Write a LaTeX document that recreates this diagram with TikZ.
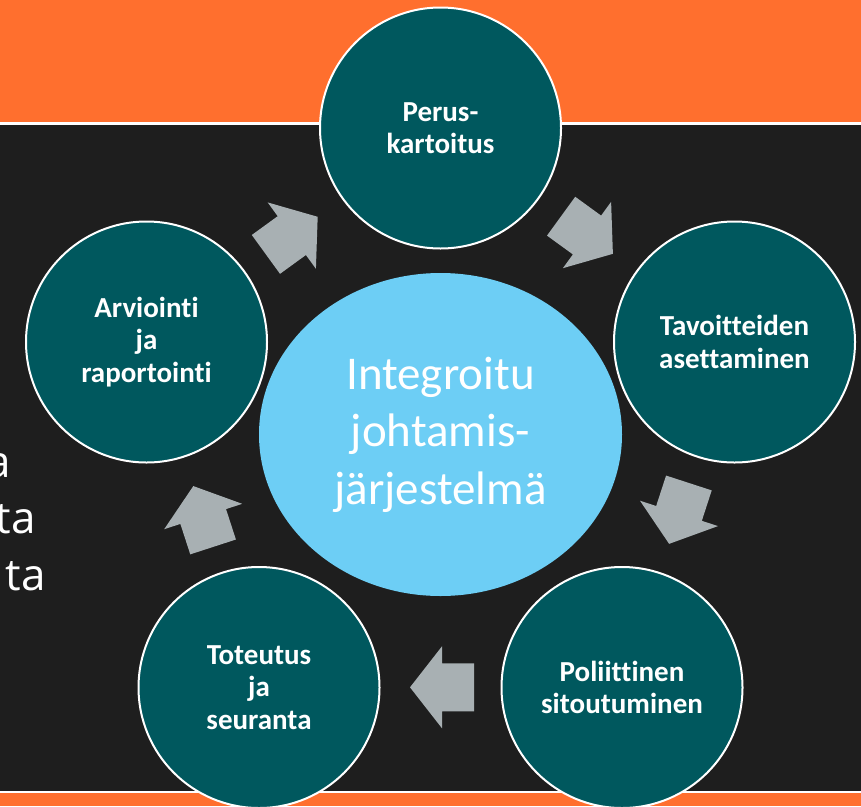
\documentclass[tikz,border=0pt]{standalone}
\usepackage{fontspec}
\setmainfont{Carlito}[Ligatures={NoCommon,NoContextual}]
\newfontfamily\sidefont{Open Sans}
\usetikzlibrary{shapes.geometric}
\definecolor{bandorange}{RGB}{255,111,46}
\definecolor{slidedark}{RGB}{30,30,30}
\definecolor{stageteal}{RGB}{0,88,94}
\definecolor{hubblue}{RGB}{109,206,245}
\definecolor{arrowgray}{RGB}{168,176,179}
\tikzset{
  stagebox/.style={circle, draw=white, line width=2pt, fill=stageteal,
    minimum size=241pt, inner sep=0pt, text=white, align=center,
    font=\bfseries\fontsize{29}{32.5}\selectfont},
  hub/.style={ellipse, fill=hubblue, minimum width=363pt, minimum height=323pt,
    inner sep=0pt, text=white, align=center,
    font=\fontsize{47}{57.5}\selectfont},
  cyclearrow/.style={fill=arrowgray},
  sidetext/.style={anchor=base east, text=white, inner sep=0pt,
    font=\sidefont\fontsize{44}{52}\selectfont}
}
\begin{document}
\begin{tikzpicture}[x=1pt,y=-1pt]
\useasboundingbox (0,0) rectangle (861,806);
\clip (0,0) rectangle (861,806);
% background bands
\fill[slidedark] (0,0) rectangle (861,806);
\fill[bandorange] (0,0) rectangle (861,122);
\fill[white] (0,122) rectangle (861,124.5);
\fill[white] (0,790.5) rectangle (861,793);
\fill[bandorange] (0,793) rectangle (861,806);
% partly hidden slide text on the left
\node[sidetext] (s1) at (11,477) {a};
\node[sidetext] (s2) at (36,533) {ta};
\node[sidetext] (s3) at (46,590) {ta};
% cycle arrows
\foreach \x/\y/\r in {291.8/235.6/36, 587/235/-36, 679/513.4/-108, 442/687.3/180, 203.2/516.5/108}
  \fill[cyclearrow, shift={(\x,\y)}, rotate=\r]
    (-32,-24) -- (0,-24) -- (0,-41) -- (32,0) -- (0,41) -- (0,24) -- (-32,24) -- cycle;
% hub
\node[hub] (hub) at (440.5,434.5) {Integroitu\\johtamis-\\järjestelmä};
% stages
\node[stagebox] (p1) at (440.5,128) {Perus-\\kartoitus};
\node[stagebox] (p2) at (734.5,342) {Tavoitteiden\\asettaminen};
\node[stagebox] (p3) at (622,687.5) {Poliittinen\\sitoutuminen};
\node[stagebox] (p4) at (259,687.5) {Toteutus\\ja\\seuranta};
\node[stagebox] (p5) at (146.5,342) {Arviointi\\ja\\raportointi};
\end{tikzpicture}
\end{document}
